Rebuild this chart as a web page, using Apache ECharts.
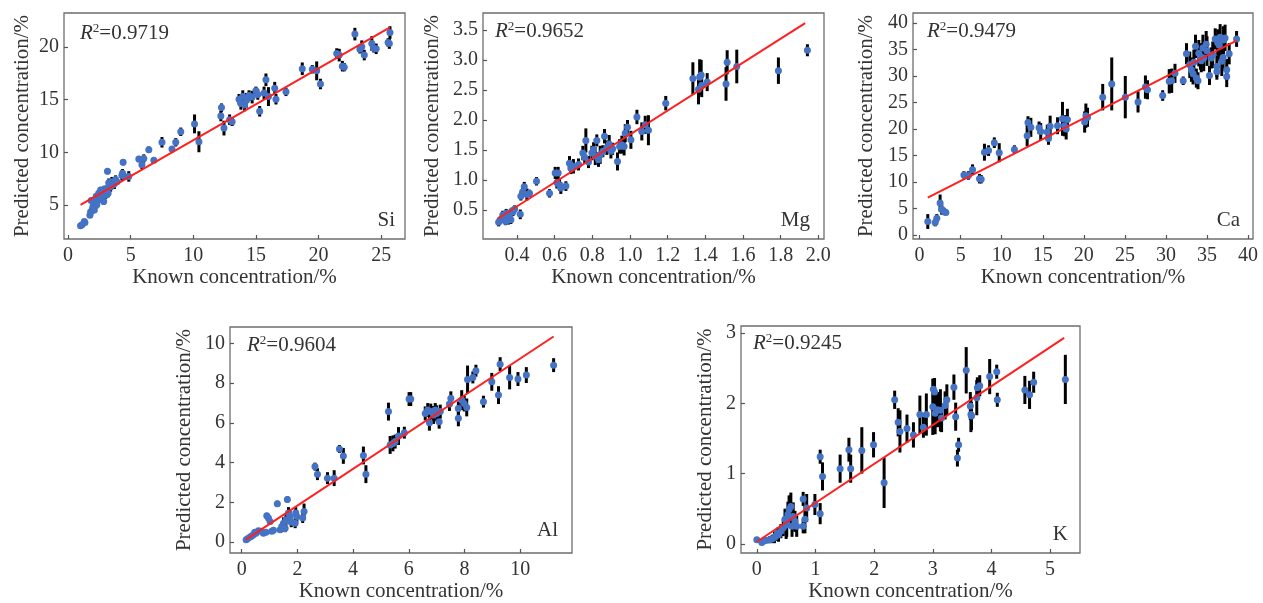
<!DOCTYPE html>
<html>
<head>
<meta charset="utf-8">
<script src="https://cdn.jsdelivr.net/npm/echarts@6/dist/echarts.min.js"></script>
<style>
html,body{margin:0;padding:0;background:#fff;}
#c{width:1263px;height:603px;}
</style>
</head>
<body>
<div id="c"></div>
<script>
// ---- data: [known, predicted, error half-length] ----
const siData = [
[1.0,3.0,0.15],[1.12,3.1,0.15],[1.3,3.4,0.2],[1.35,3.3,0.15],
[1.75,4.0,0.2],[1.8,4.3,0.25],[1.85,5.4,0.2],[1.9,4.4,0.2],[1.95,4.6,0.3],[2.0,4.85,0.3],[2.05,5.2,0.25],[2.1,4.5,0.25],[2.15,5.5,0.3],[2.2,5.3,0.3],[2.25,5.8,0.3],[2.3,5.0,0.35],[2.35,5.6,0.3],[2.45,6.1,0.3],[2.5,5.5,0.3],[2.6,6.4,0.3],[2.65,5.7,0.35],[2.8,6.1,0.3],[2.85,5.3,0.3],[2.9,6.5,0.3],[3.0,5.9,0.35],[3.1,6.4,0.45],[3.15,8.2,0.3],[3.2,6.1,0.4],[3.25,7.1,0.4],[3.3,6.8,0.4],[3.4,6.7,0.45],[3.5,7.2,0.45],[3.6,6.9,0.4],[3.7,7.0,0.5],[3.8,7.4,0.4],[3.9,7.2,0.3],[4.3,7.8,0.5],[4.35,8.0,0.4],[4.4,9.05,0.3],[4.5,7.7,0.3],[4.85,7.7,0.5],
[5.65,9.35,0.3],[5.9,8.8,0.4],[6.05,9.4,0.4],[6.45,10.25,0.3],[6.85,9.25,0.25],[7.5,10.95,0.5],[8.3,10.3,0.3],[8.6,10.95,0.4],[9.0,11.95,0.4],[10.1,12.7,0.9],[10.45,11.0,1.0],[12.2,13.45,0.5],[12.25,14.25,0.4],[12.45,12.3,0.7],[12.9,13.1,0.5],[13.1,12.9,0.4],[13.65,15.05,0.5],[13.8,14.65,0.6],[13.95,15.3,0.6],[14.1,14.5,0.6],[14.25,14.95,0.7],[14.45,15.4,0.5],[14.7,15.25,0.6],[15.0,15.85,0.4],[15.15,15.5,0.5],[15.3,13.9,0.5],[15.65,15.65,0.6],[15.8,16.9,0.6],[16.0,15.3,0.9],[16.5,16.1,0.6],[16.6,15.05,0.5],[17.4,15.75,0.4],[18.7,17.95,0.6],[19.5,17.9,0.4],[19.85,17.75,0.9],[20.15,16.5,0.5],[21.45,19.4,0.5],[21.65,19.25,0.6],[21.9,18.2,0.5],[22.05,18.1,0.4],[22.9,21.25,0.6],[23.3,19.8,0.4],[23.45,20.05,0.6],[23.65,19.25,0.5],[24.25,20.35,0.7],[24.4,19.9,0.4],[24.6,19.85,0.5],[25.55,20.45,0.4],[25.65,20.35,0.5],[25.7,21.4,0.6]
];
const mgData = [
[0.303,0.30,0.07],[0.31,0.33,0.06],[0.32,0.36,0.07],[0.325,0.42,0.07],[0.333,0.40,0.06],[0.34,0.31,0.06],[0.343,0.45,0.07],[0.35,0.37,0.06],[0.355,0.33,0.07],[0.36,0.43,0.06],[0.368,0.34,0.07],[0.372,0.48,0.06],[0.379,0.47,0.07],[0.388,0.52,0.06],
[0.418,0.43,0.08],[0.421,0.73,0.07],[0.43,0.80,0.08],[0.439,0.89,0.08],[0.453,0.76,0.1],[0.467,0.78,0.06],[0.504,0.98,0.07],[0.573,0.78,0.07],[0.603,1.12,0.1],[0.612,0.96,0.1],[0.619,1.12,0.1],[0.626,0.92,0.1],[0.633,0.87,0.1],[0.66,0.90,0.08],[0.679,1.28,0.12],[0.686,1.20,0.1],[0.70,1.23,0.12],[0.727,1.26,0.1],[0.75,1.45,0.12],[0.76,1.38,0.1],[0.766,1.66,0.2],[0.78,1.30,0.1],[0.798,1.45,0.12],[0.807,1.51,0.12],[0.816,1.40,0.15],[0.824,1.66,0.1],[0.833,1.34,0.12],[0.842,1.42,0.15],[0.856,1.48,0.1],[0.865,1.73,0.12],[0.877,1.54,0.12],[0.89,1.60,0.15],[0.899,1.48,0.12],[0.908,1.52,0.1],[0.934,1.31,0.15],[0.945,1.56,0.12],[0.957,1.59,0.15],[0.969,1.56,0.15],[0.975,1.78,0.15],[0.987,1.88,0.12],[1.005,1.67,0.15],[1.037,2.05,0.12],[1.063,1.81,0.15],[1.081,1.92,0.15],[1.098,1.83,0.25],[1.19,2.28,0.12],[1.334,2.69,0.27],[1.364,2.51,0.25],[1.37,2.71,0.3],[1.378,2.75,0.25],[1.381,2.58,0.2],[1.41,2.63,0.15],[1.51,2.60,0.28],[1.516,2.96,0.2],[1.567,2.89,0.28],[1.788,2.82,0.22],[1.942,3.16,0.1]
];
const caData = [
[1.0,2.5,1.4],[1.9,2.3,0.7],[2.1,3.1,0.8],[2.5,6.0,1.6],[2.7,4.8,1.0],[3.0,4.4,0.7],[3.2,4.2,0.5],
[5.4,11.3,0.7],[5.95,11.2,0.8],[6.45,12.3,1.0],[7.3,10.6,0.9],[7.5,10.5,0.8],[7.9,15.6,1.6],[8.4,15.9,1.0],[9.1,17.4,1.0],[9.7,15.5,1.8],[11.55,16.1,0.8],
[13.1,18.7,2.0],[13.2,21.2,1.2],[13.55,20.3,1.8],[14.55,20.2,1.2],[14.75,19.5,1.6],[15.55,19.4,1.4],[15.7,18.2,1.2],[15.9,20.5,2.0],[16.8,20.6,1.6],[17.4,21.9,3.2],[17.65,20.6,2.0],[17.85,20.0,2.0],[18.0,21.8,2.0],[20.1,21.3,2.0],[20.25,22.5,2.3],[20.45,22.2,1.8],[22.3,26.0,2.5],[23.4,28.5,5.0],[25.05,26.0,4.0],[26.6,25.1,2.0],[27.5,27.9,2.2],[27.75,27.4,1.8],[29.6,26.3,1.0],[30.4,29.0,2.3],[30.7,29.1,2.3],[31.1,30.5,1.8],[32.1,29.1,0.8],
[32.5,34.2,2.0],[32.9,32.1,2.5],[33.1,31.2,2.3],[33.3,30.4,2.0],[33.4,32.6,2.4],[33.6,35.6,2.2],[33.7,29.6,1.8],[33.9,29.1,1.6],[34.0,34.3,2.5],[34.2,33.7,2.5],[34.3,32.9,2.2],[34.5,35.3,2.5],[34.6,33.4,2.5],[34.9,36.0,2.5],[35.0,34.7,2.8],[35.3,30.1,1.8],[35.5,33.4,2.0],[35.7,34.0,2.5],[36.0,37.0,2.0],[36.2,31.8,2.0],[36.2,30.8,1.5],[36.3,36.3,2.5],[36.5,35.8,3.0],[36.6,37.3,2.5],[36.8,32.8,2.8],[36.96,33.5,2.5],[37.0,36.8,2.6],[37.2,37.2,2.5],[37.4,29.9,2.0],[37.4,31.2,2.0],[37.7,34.2,2.0],[38.6,37.0,1.5]
];
const alData = [
[0.16,0.12,0.05],[0.22,0.18,0.05],[0.3,0.25,0.06],[0.36,0.3,0.05],[0.42,0.37,0.06],[0.47,0.5,0.08],[0.51,0.45,0.06],[0.6,0.57,0.08],[0.68,0.55,0.08],[0.78,0.45,0.08],[0.87,0.49,0.1],[0.9,1.32,0.15],[0.96,1.21,0.2],[1.02,1.04,0.15],[1.08,0.54,0.1],[1.14,0.59,0.1],[1.28,1.93,0.15],[1.38,0.62,0.12],[1.44,0.79,0.15],[1.5,0.95,0.3],[1.53,0.68,0.15],[1.56,0.70,0.2],[1.59,1.12,0.3],[1.64,2.15,0.15],[1.68,1.46,0.3],[1.74,1.29,0.3],[1.78,1.0,0.25],[1.92,0.95,0.25],[1.94,1.46,0.3],[1.98,1.29,0.3],[2.19,1.21,0.25],[2.24,1.54,0.4],[2.63,3.8,0.2],[2.72,3.42,0.3],[3.08,3.22,0.3],[3.32,3.22,0.4],[3.51,4.69,0.2],[3.65,4.34,0.4],[4.37,4.36,0.45],[4.46,3.42,0.45],[5.27,6.57,0.45],[5.33,4.89,0.45],[5.43,4.97,0.4],[5.51,5.06,0.35],[5.63,5.34,0.45],[5.84,5.51,0.3],[6.01,7.2,0.35],[6.07,7.2,0.35],[6.59,6.48,0.35],[6.68,6.65,0.35],[6.74,6.01,0.4],[6.79,6.57,0.4],[6.89,6.4,0.45],[6.95,6.65,0.35],[7.0,6.48,0.4],[7.09,6.06,0.35],[7.13,6.57,0.35],[7.46,6.95,0.35],[7.51,7.24,0.35],[7.78,6.73,0.35],[7.78,6.23,0.4],[7.9,7.15,0.5],[7.99,6.98,0.4],[8.08,6.78,0.45],[8.11,8.19,0.7],[8.3,8.29,0.3],[8.41,8.63,0.3],[8.68,7.07,0.3],[8.98,8.07,0.45],[9.22,7.4,0.45],[9.28,8.96,0.35],[9.62,8.29,0.6],[9.92,8.21,0.35],[10.22,8.41,0.4],[11.2,8.91,0.35]
];
const kData = [
[0.0,0.06,0.03],[0.085,0.02,0.03],[0.12,0.04,0.03],[0.17,0.05,0.04],[0.22,0.06,0.05],[0.26,0.07,0.06],[0.3,0.09,0.08],[0.32,0.11,0.07],[0.35,0.15,0.08],[0.37,0.13,0.1],[0.41,0.18,0.1],[0.45,0.23,0.12],[0.48,0.35,0.15],[0.5,0.27,0.2],[0.51,0.30,0.2],[0.53,0.42,0.18],[0.55,0.49,0.2],[0.57,0.38,0.15],[0.58,0.53,0.2],[0.6,0.25,0.15],[0.62,0.39,0.2],[0.65,0.32,0.15],[0.68,0.25,0.15],[0.79,0.64,0.1],[0.79,0.25,0.1],[0.82,0.35,0.2],[0.85,0.51,0.2],[0.99,0.56,0.15],[1.08,1.24,0.1],[1.08,0.43,0.15],[1.12,0.96,0.2],[1.42,1.07,0.2],[1.57,1.34,0.17],[1.6,1.07,0.2],[1.79,1.33,0.33],[1.99,1.41,0.18],[2.17,0.87,0.36],[2.35,2.05,0.13],[2.41,1.73,0.2],[2.44,1.60,0.3],[2.56,1.64,0.2],[2.67,1.55,0.18],[2.78,1.84,0.27],[2.84,1.66,0.15],[2.89,1.84,0.3],[3.0,1.95,0.4],[3.01,2.2,0.15],[3.03,2.16,0.2],[3.04,1.86,0.3],[3.08,1.91,0.25],[3.13,1.90,0.3],[3.15,1.79,0.2],[3.21,1.97,0.2],[3.24,2.05,0.22],[3.36,2.23,0.18],[3.39,1.81,0.2],[3.42,1.22,0.12],[3.44,1.41,0.1],[3.57,2.47,0.33],[3.64,1.96,0.2],[3.65,1.84,0.25],[3.66,1.82,0.2],[3.75,2.08,0.25],[3.76,2.22,0.15],[3.8,2.25,0.15],[3.97,2.38,0.25],[4.09,2.45,0.1],[4.1,2.05,0.1],[4.57,2.19,0.2],[4.65,2.12,0.2],[4.72,2.3,0.15],[5.26,2.34,0.35]
];
// fitted regression line end points
const siFit = [[1.0,5.0],[25.7,21.9]];
const mgFit = [[0.297,0.357],[1.93,3.61]];
const caFit = [[1.0,7.0],[38.6,36.7]];
const alFit = [[0.15,0.12],[11.2,10.35]];
const kFit  = [[0.0,0.03],[5.24,2.93]];
// R² values and element names
const elements = ['Si','Mg','Ca','Al','K'];
const r2Values = ['0.9719','0.9652','0.9479','0.9604','0.9245'];
// tick values
const siXTicks = [0,5,10,15,20,25], siYTicks = [5,10,15,20];
const mgXTicks = [0.4,0.6,0.8,1.0,1.2,1.4,1.6,1.8,2.0], mgYTicks = [0.5,1.0,1.5,2.0,2.5,3.0,3.5];
const caXTicks = [0,5,10,15,20,25,30,35,40], caYTicks = [0,5,10,15,20,25,30,35,40];
const alXTicks = [0,2,4,6,8,10], alYTicks = [0,2,4,6,8,10];
const kXTicks = [0,1,2,3,4,5], kYTicks = [0,1,2,3];
const xTitle = 'Known concentration/%';
const yTitle = 'Predicted concentration/%';

const FONT = "'Liberation Serif','Times New Roman',serif";
const TXT = '#333';
const panels = [
  {data: siData, fit: siFit, xt: siXTicks, yt: siYTicks, xr: [-0.32, 26.9], yr: [1.74, 23.26], grid: {left:64, top:13, width:341, height:226}, dec: 0, yGap: 31, r2x: 16, r2y: 20, elx: 10, ely: 19},
  {data: mgData, fit: mgFit, xt: mgXTicks, yt: mgYTicks, xr: [0.22, 2.03], yr: [0.02, 3.78], grid: {left:483, top:13, width:341, height:226}, dec: 1, yGap: 40, r2x: 12, r2y: 18, elx: 14, ely: 19},
  {data: caData, fit: caFit, xt: caXTicks, yt: caYTicks, xr: [-0.8, 40.6], yr: [-0.8, 41.9], grid: {left:913, top:13, width:340, height:226}, dec: 0, yGap: 36, r2x: 14, r2y: 18, elx: 13, ely: 19},
  {data: alData, fit: alFit, xt: alXTicks, yt: alYTicks, xr: [-0.42, 11.86], yr: [-0.55, 10.83], grid: {left:230, top:327, width:342, height:226}, dec: 0, yGap: 35, r2x: 17, r2y: 18, elx: 14, ely: 23},
  {data: kData, fit: kFit, xt: kXTicks, yt: kYTicks, xr: [-0.27, 5.51], yr: [-0.13, 3.10], grid: {left:741, top:326, width:339, height:227}, dec: 0, yGap: 25, r2x: 12, r2y: 17, elx: 12, ely: 19}
];

const grids = [], xAxes = [], yAxes = [], series = [], graphics = [];
panels.forEach((p, i) => {
  grids.push(Object.assign({show: true, borderColor: '#6e6e6e', borderWidth: 1.3, backgroundColor: 'transparent', containLabel: false}, p.grid));
  const fmt = v => p.dec ? Number(v).toFixed(p.dec) : String(v);
  xAxes.push({
    gridIndex: i, type: 'value', min: p.xr[0], max: p.xr[1], position: 'bottom',
    axisLine: {show: false, onZero: false}, splitLine: {show: false},
    axisTick: {show: true, inside: true, length: 4, customValues: p.xt, lineStyle: {color: '#555', width: 1.2}},
    axisLabel: {customValues: p.xt, formatter: fmt, fontFamily: FONT, fontSize: 20, color: TXT, margin: 7},
    name: xTitle, nameLocation: 'middle', nameGap: 25,
    nameTextStyle: {fontFamily: FONT, fontSize: 21, color: TXT}
  });
  yAxes.push({
    gridIndex: i, type: 'value', min: p.yr[0], max: p.yr[1], position: 'left',
    axisLine: {show: false, onZero: false}, splitLine: {show: false},
    axisTick: {show: true, inside: true, length: 4, customValues: p.yt, lineStyle: {color: '#555', width: 1.2}},
    axisLabel: {customValues: p.yt, formatter: fmt, fontFamily: FONT, fontSize: 20, color: TXT, margin: 5},
    name: yTitle, nameLocation: 'middle', nameGap: p.yGap,
    nameTextStyle: {fontFamily: FONT, fontSize: 21, color: TXT}
  });
  series.push({
    type: 'custom', xAxisIndex: i, yAxisIndex: i, data: p.data, encode: {x: 0, y: 1}, z: 2,
    renderItem: function (params, api) {
      const x = api.value(0), y = api.value(1), e = api.value(2);
      const a = api.coord([x, y - e]), b = api.coord([x, y + e]);
      return {type: 'line', shape: {x1: a[0], y1: a[1], x2: b[0], y2: b[1]}, style: {stroke: '#000', lineWidth: 3}};
    }
  });
  series.push({
    type: 'scatter', xAxisIndex: i, yAxisIndex: i, data: p.data.map(d => [d[0], d[1]]),
    symbol: 'circle', symbolSize: 7, itemStyle: {color: '#4472c4', opacity: 1}, z: 3
  });
  series.push({
    type: 'line', xAxisIndex: i, yAxisIndex: i, data: p.fit, symbol: 'none', z: 4,
    lineStyle: {color: '#ff1f1f', width: 2}
  });
  const g = p.grid;
  graphics.push({
    type: 'text', x: g.left + p.r2x, y: g.top + p.r2y, z: 10,
    style: {
      text: '{i|R}{s|2}{n|=' + r2Values[i] + '}', verticalAlign: 'middle', align: 'left',
      rich: {
        i: {fontFamily: FONT, fontSize: 21, fontStyle: 'italic', fill: TXT, lineHeight: 22},
        s: {fontFamily: FONT, fontSize: 13, fill: TXT, verticalAlign: 'top', lineHeight: 22, padding: [0,0,8,0]},
        n: {fontFamily: FONT, fontSize: 21, fill: TXT, lineHeight: 22}
      }
    }
  });
  graphics.push({
    type: 'text', x: g.left + g.width - p.elx, y: g.top + g.height - p.ely, z: 10,
    style: {text: elements[i], font: '21px ' + FONT, fill: TXT, align: 'right', verticalAlign: 'middle'}
  });
});

const chart = echarts.init(document.getElementById('c'), null, {renderer: 'canvas'});
chart.setOption({
  animation: false,
  backgroundColor: '#fff',
  grid: grids, xAxis: xAxes, yAxis: yAxes, series: series, graphic: graphics
});
</script>
</body>
</html>
